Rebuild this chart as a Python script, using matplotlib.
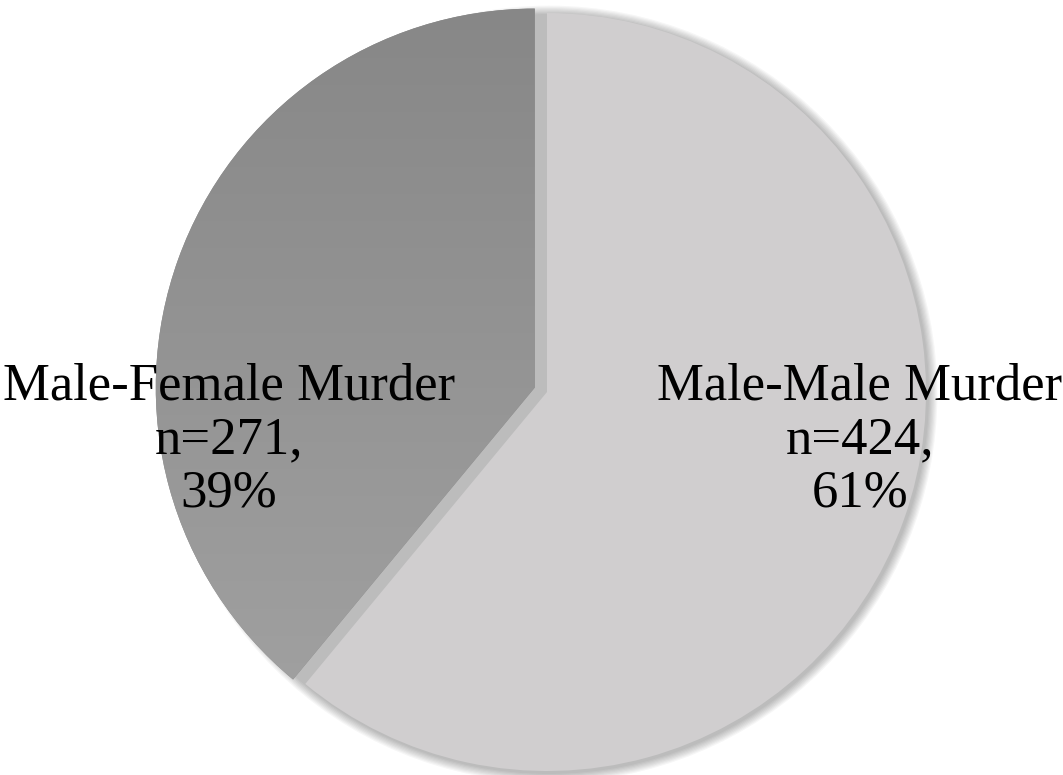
import numpy as np
import matplotlib.pyplot as plt

labels = ['Male-Male Murder', 'Male-Female Murder']
counts = [424, 271]
percents = [61, 39]
colors = ['#d0cecf', '#8c8c8c']

W, H = 1063, 775
fig = plt.figure(figsize=(W / 100, H / 100), dpi=100)
ax = fig.add_axes([0, 0, 1, 1])

cx, cy, r = 547, 383, 379

# soft shadow around the rim
for i in range(8):
    c = plt.Circle((cx + 2, cy - 2), r + 1 + i * 1.2, color='#000000',
                   alpha=0.035, lw=0, zorder=0)
    ax.add_patch(c)

# explode is in data units here (pixels), not a fraction of the radius
wedges, _ = ax.pie(counts, colors=colors, startangle=90, counterclock=False,
                   center=(cx, cy), radius=r, explode=[0, 13],
                   wedgeprops=dict(linewidth=0), frame=True)
ax.set_xlim(0, W)
ax.set_ylim(0, H)
ax.set_aspect('equal')
ax.axis('off')

# vertical gradient on the darker slice
grad = np.linspace(0, 1, 256).reshape(-1, 1)
cmap = plt.matplotlib.colors.LinearSegmentedColormap.from_list(
    'g', ['#a3a3a3', '#878787'])
img = ax.imshow(grad, cmap=cmap, extent=[0, W, 0, H], origin='lower',
                aspect='auto', zorder=2)
img.set_clip_path(wedges[1])

font = dict(family='Liberation Serif', fontsize=38, color='black',
            ha='center', va='center', zorder=5, linespacing=1.15)
ax.text(229, H - 440,
        f'{labels[1]}\nn={counts[1]},\n{percents[1]}%', **font)
ax.text(860, H - 440,
        f'{labels[0]}\nn={counts[0]},\n{percents[0]}%', **font)

fig.savefig('out.png', dpi=100)
